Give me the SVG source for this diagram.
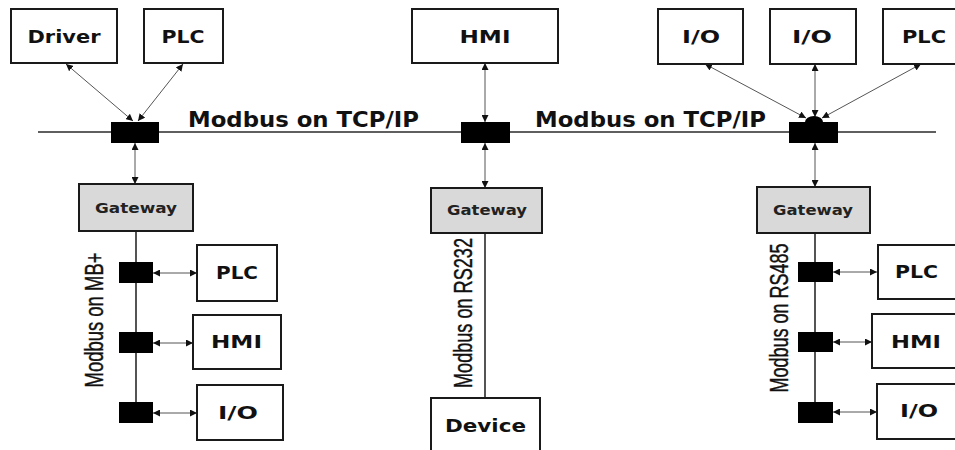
<svg xmlns="http://www.w3.org/2000/svg" width="955" height="450" viewBox="0 0 955 450">
  <style>
    .box { fill: #ffffff; stroke: #1a1a1a; stroke-width: 2; }
    .gw { fill: #d9d9d9; stroke: #1a1a1a; stroke-width: 2; }
    .tap { fill: #000000; }
    .bus { stroke: #2a2a2a; stroke-width: 1.6; fill: none; }
    .link { stroke: #555555; stroke-width: 1; fill: none; marker-start: url(#ah); marker-end: url(#ah); }
    .lbl { font-family: "DejaVu Sans", "Liberation Sans", sans-serif; font-weight: bold; font-size: 18px; fill: #111111; text-anchor: middle; }
    .gwl { font-family: "DejaVu Sans", "Liberation Sans", sans-serif; font-weight: bold; font-size: 14px; fill: #222222; text-anchor: middle; }
    .net { font-family: "DejaVu Sans", "Liberation Sans", sans-serif; font-weight: bold; font-size: 21px; fill: #111111; }
    .vnet { font-family: "Liberation Sans Narrow", "Liberation Sans", sans-serif; font-size: 25px; fill: #111111; stroke: #111111; stroke-width: 0.4; text-anchor: middle; }
  </style>
  <defs>
    <marker id="ah" viewBox="0 0 10 10" refX="10" refY="5" markerWidth="7" markerHeight="7" markerUnits="userSpaceOnUse" orient="auto-start-reverse">
      <path d="M0,0 L10,5 L0,10 z" fill="#111111"/>
    </marker>
  </defs>

  <!-- Ethernet backbone and segment lines -->
  <g id="connectors">
    <line class="bus" x1="38" y1="132" x2="936" y2="132"/>
    <line class="bus" x1="136" y1="231" x2="136" y2="412"/>
    <line class="bus" x1="485" y1="233" x2="485" y2="398"/>
    <line class="bus" x1="815" y1="233" x2="815" y2="412"/>

    <!-- left tap -->
    <line class="link" x1="66" y1="64" x2="133" y2="121"/>
    <line class="link" x1="183" y1="64" x2="138" y2="121"/>
    <line class="link" x1="135" y1="143" x2="135" y2="184"/>
    <!-- middle tap -->
    <line class="link" x1="485" y1="63" x2="485" y2="122"/>
    <line class="link" x1="485" y1="143" x2="485" y2="188"/>
    <!-- right tap -->
    <line class="link" x1="705" y1="64" x2="806" y2="118"/>
    <line class="link" x1="815" y1="64" x2="815" y2="117"/>
    <line class="link" x1="921" y1="64" x2="822" y2="118"/>
    <line class="link" x1="815" y1="143" x2="815" y2="187"/>

    <!-- MB+ drops -->
    <line class="link" x1="153" y1="273" x2="197" y2="273"/>
    <line class="link" x1="153" y1="343" x2="193" y2="343"/>
    <line class="link" x1="153" y1="413" x2="197" y2="413"/>
    <!-- RS485 drops -->
    <line class="link" x1="833" y1="272" x2="877" y2="272"/>
    <line class="link" x1="833" y1="342" x2="872" y2="342"/>
    <line class="link" x1="833" y1="412" x2="877" y2="412"/>
  </g>

  <!-- network labels -->
  <text class="net" x="188" y="127" textLength="231" lengthAdjust="spacingAndGlyphs">Modbus on TCP/IP</text>
  <text class="net" x="535" y="127" textLength="231" lengthAdjust="spacingAndGlyphs">Modbus on TCP/IP</text>
  <text class="vnet" transform="translate(103,320) rotate(-90)" textLength="135" lengthAdjust="spacingAndGlyphs">Modbus on MB+</text>
  <text class="vnet" transform="translate(472,313) rotate(-90)" textLength="150" lengthAdjust="spacingAndGlyphs">Modbus on RS232</text>
  <text class="vnet" transform="translate(788,318) rotate(-90)" textLength="149" lengthAdjust="spacingAndGlyphs">Modbus on RS485</text>

  <!-- bus taps -->
  <g id="tap-left"><rect class="tap" x="111" y="122" width="48" height="21"/></g>
  <g id="tap-mid"><rect class="tap" x="461" y="122" width="49" height="21"/></g>
  <g id="tap-right">
    <rect class="tap" x="789" y="122" width="49" height="21"/>
    <ellipse class="tap" cx="814" cy="122" rx="9" ry="6"/>
  </g>
  <g id="tap-mb1"><rect class="tap" x="119" y="262" width="34" height="21"/></g>
  <g id="tap-mb2"><rect class="tap" x="119" y="332" width="34" height="21"/></g>
  <g id="tap-mb3"><rect class="tap" x="119" y="402" width="34" height="21"/></g>
  <g id="tap-rs1"><rect class="tap" x="798" y="262" width="35" height="20"/></g>
  <g id="tap-rs2"><rect class="tap" x="798" y="332" width="35" height="20"/></g>
  <g id="tap-rs3"><rect class="tap" x="798" y="402" width="35" height="21"/></g>

  <!-- top row devices -->
  <g id="driver"><rect class="box" x="11" y="9" width="106" height="54"/><text class="lbl" x="64" y="43" textLength="73" lengthAdjust="spacingAndGlyphs">Driver</text></g>
  <g id="plc-top-left"><rect class="box" x="144" y="9" width="79" height="54"/><text class="lbl" x="183" y="43" textLength="43" lengthAdjust="spacingAndGlyphs">PLC</text></g>
  <g id="hmi-top"><rect class="box" x="412" y="9" width="146" height="54"/><text class="lbl" x="485" y="43" textLength="51" lengthAdjust="spacingAndGlyphs">HMI</text></g>
  <g id="io-top-1"><rect class="box" x="658" y="9" width="85" height="55"/><text class="lbl" x="701" y="43" textLength="38" lengthAdjust="spacingAndGlyphs">I/O</text></g>
  <g id="io-top-2"><rect class="box" x="770" y="9" width="86" height="55"/><text class="lbl" x="812" y="43" textLength="40" lengthAdjust="spacingAndGlyphs">I/O</text></g>
  <g id="plc-top-right"><rect class="box" x="883" y="9" width="82" height="55"/><text class="lbl" x="924" y="43" textLength="44" lengthAdjust="spacingAndGlyphs">PLC</text></g>

  <!-- gateways -->
  <g id="gateway-left"><rect class="gw" x="79" y="184" width="114" height="47"/><text class="gwl" x="136" y="213" textLength="82" lengthAdjust="spacingAndGlyphs">Gateway</text></g>
  <g id="gateway-mid"><rect class="gw" x="431" y="188" width="111" height="45"/><text class="gwl" x="487" y="215" textLength="80" lengthAdjust="spacingAndGlyphs">Gateway</text></g>
  <g id="gateway-right"><rect class="gw" x="757" y="187" width="113" height="46"/><text class="gwl" x="813" y="215" textLength="80" lengthAdjust="spacingAndGlyphs">Gateway</text></g>

  <!-- MB+ segment devices -->
  <g id="plc-mb"><rect class="box" x="197" y="245" width="80" height="56"/><text class="lbl" x="237" y="279" textLength="42" lengthAdjust="spacingAndGlyphs">PLC</text></g>
  <g id="hmi-mb"><rect class="box" x="193" y="315" width="88" height="54"/><text class="lbl" x="236.5" y="348" textLength="51" lengthAdjust="spacingAndGlyphs">HMI</text></g>
  <g id="io-mb"><rect class="box" x="197" y="385" width="86" height="55"/><text class="lbl" x="238" y="419" textLength="40" lengthAdjust="spacingAndGlyphs">I/O</text></g>

  <!-- RS232 device -->
  <g id="device"><rect class="box" x="431" y="398" width="109" height="60"/><text class="lbl" x="485.5" y="432" textLength="81" lengthAdjust="spacingAndGlyphs">Device</text></g>

  <!-- RS485 segment devices -->
  <g id="plc-rs"><rect class="box" x="878" y="245" width="82" height="54"/><text class="lbl" x="916.5" y="278" textLength="43" lengthAdjust="spacingAndGlyphs">PLC</text></g>
  <g id="hmi-rs"><rect class="box" x="872" y="314" width="88" height="54"/><text class="lbl" x="916" y="348" textLength="50" lengthAdjust="spacingAndGlyphs">HMI</text></g>
  <g id="io-rs"><rect class="box" x="877" y="384" width="83" height="55"/><text class="lbl" x="919" y="417" textLength="38" lengthAdjust="spacingAndGlyphs">I/O</text></g>
</svg>
